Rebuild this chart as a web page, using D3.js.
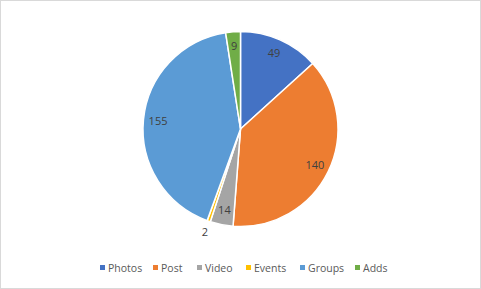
<!DOCTYPE html>
<html>
<head>
<meta charset="utf-8">
<script src="https://cdn.jsdelivr.net/npm/d3@7"></script>
<style>
  html, body { margin: 0; padding: 0; background: #fff; }
  svg { display: block; }
  text { font-family: "Open Sans", "Liberation Sans", sans-serif; fill: #595959; }
  text.label { fill: #404040; }
</style>
</head>
<body>
<svg id="chart" width="481" height="289"></svg>
<script>
'use strict';

var categories = ['Photos', 'Post', 'Video', 'Events', 'Groups', 'Adds'];
var values = [49, 140, 14, 2, 155, 9];
var colors = ['#4472C4', '#ED7D31', '#A5A5A5', '#FFC000', '#5B9BD5', '#70AD47'];
// legend x offsets (square position)
var legendX = [100, 153, 197, 246, 300, 355];

var width = 481,
    height = 289,
    cx = 240.5,
    cy = 129,
    radius = 97.5;

var svg = d3.select('#chart');

svg.append('rect')
    .attr('x', 0.5)
    .attr('y', 0.5)
    .attr('width', width - 1)
    .attr('height', height - 1)
    .attr('fill', '#fff')
    .attr('stroke', '#d9d9d9');

var data = categories.map(function(c, i) {
    return {name: c, value: values[i], color: colors[i]};
});

var pie = d3.pie()
    .sort(null)
    .value(function(d) { return d.value; });

var arc = d3.arc()
    .innerRadius(0)
    .outerRadius(radius);

var arcs = pie(data);

var g = svg.append('g')
    .attr('transform', 'translate(' + cx + ',' + cy + ')');

g.selectAll('path.slice')
    .data(arcs)
    .enter().append('path')
    .attr('class', 'slice')
    .attr('d', arc)
    .attr('fill', function(d) { return d.data.color; })
    .attr('stroke', '#fff')
    .attr('stroke-width', 1.5)
    .attr('stroke-linejoin', 'round');

// data labels: inside for big slices, outside for tiny ones
function labelRadius(d) {
    var frac = d.data.value / d3.sum(values);
    if(frac < 0.01) return radius * 1.12;
    return radius * 0.85;
}

g.selectAll('text.label')
    .data(arcs)
    .enter().append('text')
    .attr('class', 'label')
    .attr('text-anchor', 'middle')
    .attr('dy', '0.35em')
    .style('font-size', '11px')
    .attr('x', function(d) {
        var a = (d.startAngle + d.endAngle) / 2;
        return Math.sin(a) * labelRadius(d);
    })
    .attr('y', function(d) {
        var a = (d.startAngle + d.endAngle) / 2;
        return -Math.cos(a) * labelRadius(d);
    })
    .text(function(d) { return d.data.value; });

// legend
var legend = svg.append('g')
    .attr('class', 'legend');

var items = legend.selectAll('g.item')
    .data(data)
    .enter().append('g')
    .attr('class', 'item')
    .attr('transform', function(d, i) { return 'translate(' + legendX[i] + ',268)'; });

items.append('rect')
    .attr('x', 0)
    .attr('y', -3)
    .attr('width', 5)
    .attr('height', 5)
    .attr('fill', function(d) { return d.color; });

items.append('text')
    .attr('x', 8)
    .attr('dy', '0.35em')
    .style('font-size', '10.5px')
    .text(function(d) { return d.name; });
</script>
</body>
</html>
